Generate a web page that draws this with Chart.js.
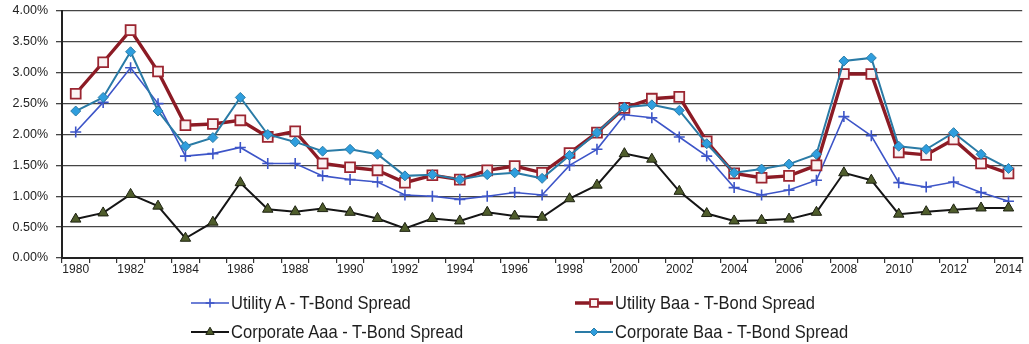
<!DOCTYPE html>
<html>
<head>
<meta charset="utf-8">
<script src="https://cdn.jsdelivr.net/npm/chart.js@4/dist/chart.umd.min.js"></script>
<style>
  html, body { margin: 0; padding: 0; background: #fff; overflow: hidden; }
  #wrap { position: relative; width: 1031px; height: 344px; }
  #legend { position: absolute; left: 0; top: 0; width: 1031px; height: 344px; pointer-events: none; }
  .item { position: absolute; display: flex; align-items: center; height: 24px;
          font-family: "Liberation Sans", Arial, sans-serif;
          font-size: 19px; color: #1e1e1e; white-space: nowrap; }
  .item canvas { display: block; margin-right: 2px; }
  .item span { display: inline-block; transform: scaleX(0.87); transform-origin: left center; }
</style>
</head>
<body>
<div id="wrap">
  <canvas id="chart"></canvas>
  <div id="legend"></div>
</div>
<script>
// Years on the category axis
const years = [];
for (let y = 1980; y <= 2014; y++) years.push(String(y));

// Spreads over T-Bonds, in percent
const utilityA = [2.04, 2.52, 3.08, 2.50, 1.65, 1.69, 1.79, 1.53, 1.53, 1.33,
                  1.27, 1.23, 1.02, 1.00, 0.95, 1.00, 1.06, 1.02, 1.50, 1.76,
                  2.32, 2.27, 1.96, 1.65, 1.14, 1.02, 1.10, 1.26, 2.29, 1.98,
                  1.22, 1.15, 1.23, 1.06, 0.92];
const utilityBaa = [2.66, 3.17, 3.69, 3.02, 2.15, 2.17, 2.23, 1.96, 2.05, 1.53,
                    1.47, 1.42, 1.22, 1.34, 1.27, 1.42, 1.49, 1.38, 1.70, 2.03,
                    2.43, 2.58, 2.61, 1.89, 1.37, 1.30, 1.33, 1.50, 2.98, 2.98,
                    1.71, 1.67, 1.92, 1.53, 1.37];
const corporateAaa = [0.63, 0.73, 1.03, 0.84, 0.32, 0.58, 1.22, 0.79, 0.75, 0.80,
                      0.74, 0.64, 0.48, 0.64, 0.60, 0.74, 0.68, 0.66, 0.96, 1.18,
                      1.69, 1.60, 1.08, 0.72, 0.60, 0.61, 0.63, 0.74, 1.38, 1.26,
                      0.71, 0.75, 0.78, 0.81, 0.81];
const corporateBaa = [2.38, 2.60, 3.34, 2.38, 1.81, 1.95, 2.60, 2.00, 1.88, 1.73,
                      1.76, 1.68, 1.33, 1.35, 1.27, 1.35, 1.38, 1.29, 1.66, 2.03,
                      2.44, 2.48, 2.39, 1.85, 1.38, 1.44, 1.52, 1.68, 3.19, 3.24,
                      1.81, 1.76, 2.03, 1.68, 1.45];

// Axis range and tick step (percent)
const yMin = 0, yMax = 4, yStep = 0.5;

const seriesNames = [
  'Utility A - T-Bond Spread',
  'Utility Baa - T-Bond Spread',
  'Corporate Aaa - T-Bond Spread',
  'Corporate Baa - T-Bond Spread'
];

const datasets = [
  { label: seriesNames[0], data: utilityA, order: 3,
    borderColor: '#3d55c8', borderWidth: 1.6, pointStyle: 'cross',
    pointRadius: 5.5, pointBorderWidth: 1.6, pointBorderColor: '#3d55c8',
    pointBackgroundColor: '#3d55c8' },
  { label: seriesNames[1], data: utilityBaa, order: 2,
    borderColor: '#8c1b25', borderWidth: 3.4, pointStyle: 'rect',
    pointRadius: 7, pointBorderWidth: 1.8, pointBorderColor: '#9b2530',
    pointBackgroundColor: '#fbf3f3' },
  { label: seriesNames[2], data: corporateAaa, order: 1,
    borderColor: '#151515', borderWidth: 2, pointStyle: 'triangle',
    pointRadius: 6, pointBorderWidth: 1, pointBorderColor: '#1c2010',
    pointBackgroundColor: '#4f5d2c' },
  { label: seriesNames[3], data: corporateBaa, order: 0,
    borderColor: '#2a7ba6', borderWidth: 2, pointStyle: 'rectRot',
    pointRadius: 5, pointBorderWidth: 1, pointBorderColor: '#2a7ba6',
    pointBackgroundColor: '#2f9ede' }
].map(d => Object.assign({ tension: 0, fill: false, pointHoverRadius: d.pointRadius }, d));

const tickFont = { family: '"Liberation Sans", Arial, sans-serif', size: 12 };

const chart = new Chart(document.getElementById('chart'), {
  type: 'line',
  data: { labels: years, datasets },
  options: {
    responsive: true,
    maintainAspectRatio: false,
    animation: false,
    layout: { padding: { left: 0, right: 0, top: 11, bottom: 0 } },
    plugins: { legend: { display: false }, tooltip: { enabled: false } },
    scales: {
      x: {
        type: 'category',
        offset: true,
        grid: { offset: true, drawOnChartArea: false, drawTicks: true,
                tickLength: 5, color: '#333', lineWidth: 1.2 },
        border: { display: true, color: '#222', width: 2 },
        ticks: {
          autoSkip: false, maxRotation: 0, padding: -1, color: '#222', font: tickFont,
          callback: function (v, i) { return i % 2 === 0 ? this.getLabelForValue(v) : ''; }
        },
        afterFit: s => { s.height = 86; s.paddingLeft = 0; s.paddingRight = 0; }
      },
      y: {
        min: yMin, max: yMax,
        grid: { color: '#454545', lineWidth: 1.3, tickLength: 6 },
        border: { display: true, color: '#222', width: 2 },
        ticks: { stepSize: yStep, padding: 8, color: '#222',
                 font: { family: '"Liberation Sans", Arial, sans-serif', size: 12.5 },
                 callback: v => v.toFixed(2) + '%' },
        afterFit: s => { s.width = 62; s.paddingTop = 0; s.paddingBottom = 0; }
      }
    }
  }
});

// Legend laid out in two rows of two, each with its line-and-marker key
const legendPos = [
  { x: 191, y: 303 }, { x: 575, y: 303 },
  { x: 191, y: 332 }, { x: 575, y: 332 }
];
const legendOrder = [0, 1, 2, 3];
const legend = document.getElementById('legend');
legendOrder.forEach((di, k) => {
  const ds = datasets[di];
  const item = document.createElement('div');
  item.className = 'item';
  item.style.left = legendPos[k].x + 'px';
  item.style.top = (legendPos[k].y - 12) + 'px';
  const c = document.createElement('canvas');
  c.width = 38; c.height = 20;
  const ctx = c.getContext('2d');
  ctx.strokeStyle = ds.borderColor;
  ctx.lineWidth = ds.borderWidth;
  ctx.beginPath(); ctx.moveTo(0, 10); ctx.lineTo(38, 10); ctx.stroke();
  ctx.strokeStyle = ds.pointBorderColor;
  ctx.fillStyle = ds.pointBackgroundColor;
  ctx.lineWidth = ds.pointBorderWidth;
  Chart.helpers.drawPoint(ctx, { pointStyle: ds.pointStyle, radius: ds.pointRadius * 0.8,
                                 borderWidth: ds.pointBorderWidth, rotation: 0 }, 19, 10);
  item.appendChild(c);
  const t = document.createElement('span');
  t.textContent = ds.label;
  item.appendChild(t);
  legend.appendChild(item);
});
</script>
</body>
</html>
